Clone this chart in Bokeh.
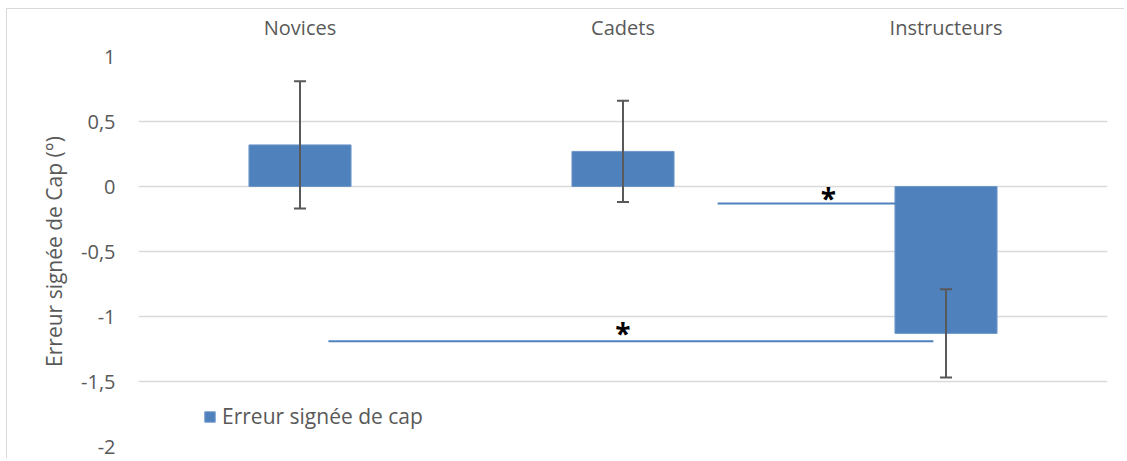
from bokeh.plotting import figure
from bokeh.models import Range1d, FixedTicker, Whisker, ColumnDataSource, TeeHead, Legend, LegendItem
from bokeh.embed import file_html
from bokeh.resources import INLINE
from bokeh.core.properties import value

# ---- data ----
categories = ["Novices", "Cadets", "Instructeurs"]
means = [0.32, 0.27, -1.13]
errors = [0.49, 0.39, 0.34]
y_ticks = [-2, -1.5, -1, -0.5, 0, 0.5, 1]
y_tick_labels = ["-2", "-1,5", "-1", "-0,5", "0", "0,5", "1"]
series_name = "Erreur signée de cap"
y_title = "Erreur signée de Cap (°)"
# significance brackets: (from category, offset), (to category, offset), y level, star position
sig_from = [("Cadets", 0.293), ("Novices", 0.088)]
sig_to = [("Instructeurs", -0.054), ("Instructeurs", -0.039)]
sig_y = [-0.13, -1.19]
sig_star_x = [("Instructeurs", -0.364), ("Cadets", 0.0)]
sig_star_y = [-0.09, -1.125]

FONT = "Open Sans"
GREY = "#595959"
BLUE = "#4F81BD"

xpos = {c: i + 0.5 for i, c in enumerate(categories)}

W, H = 1118, 450
p = figure(width=W, height=H, output_backend="svg", toolbar_location=None,
           x_range=Range1d(0, 3), y_range=Range1d(-2, 1),
           x_axis_location="above",
           min_border_left=131, min_border_right=18, min_border_top=47, min_border_bottom=13)
p.outline_line_color = None
p.background_fill_color = "white"
p.border_fill_color = "white"

src = ColumnDataSource(dict(
    x=[xpos[c] for c in categories],
    top=means,
    upper=[m + e for m, e in zip(means, errors)],
    lower=[m - e for m, e in zip(means, errors)],
))

bars = p.vbar(x="x", top="top", bottom=0, width=0.316, source=src,
              fill_color=BLUE, line_color="#6E97C8", line_width=1)

wh = Whisker(base="x", upper="upper", lower="lower", source=src, level="overlay",
             line_color=GREY, line_width=2,
             upper_head=TeeHead(size=12, line_color=GREY, line_width=2),
             lower_head=TeeHead(size=12, line_color=GREY, line_width=2))
p.add_layout(wh)

# significance lines
p.segment(x0=[xpos[c] + o for c, o in sig_from], x1=[xpos[c] + o for c, o in sig_to],
          y0=sig_y, y1=sig_y, line_color=BLUE, line_width=2)
p.text(x=[xpos[c] + o for c, o in sig_star_x], y=sig_star_y, text=["*", "*"],
       text_font=value(FONT), text_font_size="28px", text_font_style="bold",
       text_color="black", text_align="center", text_baseline="middle")

# axes
xa = p.xaxis[0]
xa.ticker = FixedTicker(ticks=[xpos[c] for c in categories])
xa.major_label_overrides = {xpos[c]: c for c in categories}
xa.axis_line_color = None
xa.major_tick_line_color = None
xa.minor_tick_line_color = None
xa.major_tick_out = 0
xa.major_label_text_font = FONT
xa.major_label_text_font_size = "20px"
xa.major_label_text_color = GREY
xa.major_label_standoff = 16

ya = p.yaxis[0]
ya.ticker = FixedTicker(ticks=y_ticks)
ya.major_label_overrides = {t: l for t, l in zip(y_ticks, y_tick_labels)}
ya.axis_line_color = None
ya.major_tick_line_color = None
ya.minor_tick_line_color = None
ya.major_tick_out = 0
ya.major_label_text_font = FONT
ya.major_label_text_font_size = "20px"
ya.major_label_text_color = GREY
ya.major_label_standoff = 23
ya.axis_label = y_title
ya.axis_label_text_font = FONT
ya.axis_label_text_font_size = "21px"
ya.axis_label_text_font_style = "normal"
ya.axis_label_text_color = GREY
ya.axis_label_standoff = 10

p.xgrid.grid_line_color = None
p.ygrid.grid_line_color = "#D9D9D9"
p.ygrid.grid_line_width = 1.5

legend = Legend(items=[LegendItem(label=series_name, renderers=[bars])],
                location=(65, 16), orientation="horizontal",
                glyph_width=13, glyph_height=13, label_standoff=6,
                label_text_font=FONT, label_text_font_size="21px", label_text_color=GREY,
                border_line_color=None, background_fill_alpha=0,
                padding=0, margin=0, label_height=22)
p.add_layout(legend)

p.styles = {"margin-left": "6px", "margin-top": "8px",
            "border-left": "1px solid #D9D9D9", "border-top": "1px solid #D9D9D9"}

open("out.html", "w").write(file_html(p, INLINE))
